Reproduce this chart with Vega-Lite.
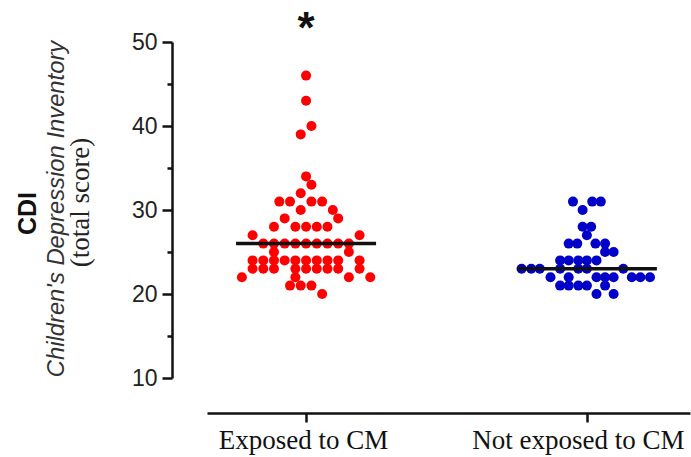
{
  "$schema": "https://vega.github.io/schema/vega-lite/v6.json",
  "width": 483,
  "height": 336,
  "autosize": {"type": "none"},
  "padding": {"left": 207, "top": 42, "right": 1, "bottom": 79},
  "background": "white",
  "config": {"view": {"stroke": null}, "axis": {"grid": false}},
  "resolve": {"axis": {"y": "independent"}},
  "layer": [
    {
      "data": {"values": [
        {"group": "Exposed to CM", "score": 46, "slot": 0},
        {"group": "Exposed to CM", "score": 43, "slot": 0},
        {"group": "Exposed to CM", "score": 40, "slot": 0.5},
        {"group": "Exposed to CM", "score": 39, "slot": -0.5},
        {"group": "Exposed to CM", "score": 34, "slot": 0},
        {"group": "Exposed to CM", "score": 33, "slot": 0.5},
        {"group": "Exposed to CM", "score": 32, "slot": -0.5},
        {"group": "Exposed to CM", "score": 31, "slot": -2.5},
        {"group": "Exposed to CM", "score": 31, "slot": -1.5},
        {"group": "Exposed to CM", "score": 31, "slot": 0.5},
        {"group": "Exposed to CM", "score": 31, "slot": 1.5},
        {"group": "Exposed to CM", "score": 30, "slot": -0.5},
        {"group": "Exposed to CM", "score": 30, "slot": 2.5},
        {"group": "Exposed to CM", "score": 29, "slot": -2},
        {"group": "Exposed to CM", "score": 29, "slot": 3},
        {"group": "Exposed to CM", "score": 28, "slot": -3},
        {"group": "Exposed to CM", "score": 28, "slot": -1},
        {"group": "Exposed to CM", "score": 28, "slot": 0},
        {"group": "Exposed to CM", "score": 28, "slot": 1},
        {"group": "Exposed to CM", "score": 28, "slot": 2},
        {"group": "Exposed to CM", "score": 27, "slot": -5},
        {"group": "Exposed to CM", "score": 27, "slot": 5},
        {"group": "Exposed to CM", "score": 26, "slot": -4},
        {"group": "Exposed to CM", "score": 26, "slot": -3},
        {"group": "Exposed to CM", "score": 26, "slot": -2},
        {"group": "Exposed to CM", "score": 26, "slot": -1},
        {"group": "Exposed to CM", "score": 26, "slot": 0},
        {"group": "Exposed to CM", "score": 26, "slot": 1},
        {"group": "Exposed to CM", "score": 26, "slot": 2},
        {"group": "Exposed to CM", "score": 26, "slot": 3},
        {"group": "Exposed to CM", "score": 26, "slot": 4},
        {"group": "Exposed to CM", "score": 25, "slot": -3},
        {"group": "Exposed to CM", "score": 25, "slot": 4},
        {"group": "Exposed to CM", "score": 24, "slot": -5},
        {"group": "Exposed to CM", "score": 24, "slot": -4},
        {"group": "Exposed to CM", "score": 24, "slot": -3},
        {"group": "Exposed to CM", "score": 24, "slot": -2},
        {"group": "Exposed to CM", "score": 24, "slot": -1},
        {"group": "Exposed to CM", "score": 24, "slot": 0},
        {"group": "Exposed to CM", "score": 24, "slot": 1},
        {"group": "Exposed to CM", "score": 24, "slot": 2},
        {"group": "Exposed to CM", "score": 24, "slot": 3},
        {"group": "Exposed to CM", "score": 24, "slot": 5},
        {"group": "Exposed to CM", "score": 23, "slot": -5},
        {"group": "Exposed to CM", "score": 23, "slot": -4},
        {"group": "Exposed to CM", "score": 23, "slot": -3},
        {"group": "Exposed to CM", "score": 23, "slot": -1},
        {"group": "Exposed to CM", "score": 23, "slot": 0},
        {"group": "Exposed to CM", "score": 23, "slot": 1},
        {"group": "Exposed to CM", "score": 23, "slot": 2},
        {"group": "Exposed to CM", "score": 23, "slot": 3},
        {"group": "Exposed to CM", "score": 23, "slot": 5},
        {"group": "Exposed to CM", "score": 22, "slot": -6},
        {"group": "Exposed to CM", "score": 22, "slot": -1},
        {"group": "Exposed to CM", "score": 22, "slot": 4},
        {"group": "Exposed to CM", "score": 22, "slot": 6},
        {"group": "Exposed to CM", "score": 21, "slot": -1.5},
        {"group": "Exposed to CM", "score": 21, "slot": -0.5},
        {"group": "Exposed to CM", "score": 21, "slot": 0.5},
        {"group": "Exposed to CM", "score": 20, "slot": 1.5},
        {"group": "Not exposed to CM", "score": 31, "slot": -1.3},
        {"group": "Not exposed to CM", "score": 31, "slot": 0.5},
        {"group": "Not exposed to CM", "score": 31, "slot": 1.3},
        {"group": "Not exposed to CM", "score": 30, "slot": -0.4},
        {"group": "Not exposed to CM", "score": 28, "slot": -0.4},
        {"group": "Not exposed to CM", "score": 28, "slot": 0.4},
        {"group": "Not exposed to CM", "score": 27, "slot": 0},
        {"group": "Not exposed to CM", "score": 26, "slot": -1.7},
        {"group": "Not exposed to CM", "score": 26, "slot": -0.9},
        {"group": "Not exposed to CM", "score": 26, "slot": 0.8},
        {"group": "Not exposed to CM", "score": 26, "slot": 1.7},
        {"group": "Not exposed to CM", "score": 25, "slot": 1.7},
        {"group": "Not exposed to CM", "score": 25, "slot": 2.5},
        {"group": "Not exposed to CM", "score": 24, "slot": -2.5},
        {"group": "Not exposed to CM", "score": 24, "slot": -1.7},
        {"group": "Not exposed to CM", "score": 24, "slot": -0.8},
        {"group": "Not exposed to CM", "score": 24, "slot": 0},
        {"group": "Not exposed to CM", "score": 24, "slot": 0.9},
        {"group": "Not exposed to CM", "score": 23, "slot": -6.1},
        {"group": "Not exposed to CM", "score": 23, "slot": -5.2},
        {"group": "Not exposed to CM", "score": 23, "slot": -4.4},
        {"group": "Not exposed to CM", "score": 23, "slot": -2.5},
        {"group": "Not exposed to CM", "score": 23, "slot": -0.8},
        {"group": "Not exposed to CM", "score": 23, "slot": 0},
        {"group": "Not exposed to CM", "score": 23, "slot": 3.4},
        {"group": "Not exposed to CM", "score": 22, "slot": -3.4},
        {"group": "Not exposed to CM", "score": 22, "slot": -1.7},
        {"group": "Not exposed to CM", "score": 22, "slot": 0.9},
        {"group": "Not exposed to CM", "score": 22, "slot": 1.7},
        {"group": "Not exposed to CM", "score": 22, "slot": 2.5},
        {"group": "Not exposed to CM", "score": 22, "slot": 4.2},
        {"group": "Not exposed to CM", "score": 22, "slot": 5.0},
        {"group": "Not exposed to CM", "score": 22, "slot": 5.9},
        {"group": "Not exposed to CM", "score": 21, "slot": -2.5},
        {"group": "Not exposed to CM", "score": 21, "slot": -1.7},
        {"group": "Not exposed to CM", "score": 21, "slot": -0.8},
        {"group": "Not exposed to CM", "score": 21, "slot": 0},
        {"group": "Not exposed to CM", "score": 21, "slot": 1.7},
        {"group": "Not exposed to CM", "score": 20, "slot": 0.9},
        {"group": "Not exposed to CM", "score": 20, "slot": 2.5}
      ]},
      "mark": {"type": "circle", "size": 100, "opacity": 1},
      "encoding": {
        "x": {
          "field": "group", "type": "nominal",
          "sort": ["Exposed to CM", "Not exposed to CM"],
          "scale": {"type": "point", "padding": 0.36, "align": 0.49},
          "axis": {
            "title": null, "orient": "bottom", "offset": 35,
            "domainColor": "#111", "domainWidth": 2.5,
            "tickColor": "#111", "tickWidth": 2.5, "tickSize": 9,
            "labelFont": "Liberation Serif", "labelFontSize": 27, "labelColor": "#111",
            "labelAngle": 0, "labelPadding": 5, "labelLimit": 0,
            "labelOffset": {"condition": {"test": "datum.value === 'Not exposed to CM'", "value": -9}, "value": -3}
          }
        },
        "xOffset": {"field": "slot", "type": "quantitative", "scale": {"domain": [-10, 10], "range": [-107, 107]}},
        "y": {
          "field": "score", "type": "quantitative",
          "scale": {"domain": [10, 50], "nice": false, "zero": false},
          "axis": {
            "orient": "left", "offset": 35, "values": [10, 20, 30, 40, 50],
            "domainColor": "#111", "domainWidth": 2.5,
            "tickColor": "#111", "tickWidth": 2.5, "tickSize": 10,
            "labelFont": "Liberation Sans", "labelFontSize": 23, "labelColor": "#222", "labelPadding": 5,
            "title": "(total score)", "titleFont": "Liberation Serif", "titleFontSize": 27,
            "titleFontWeight": "normal", "titleColor": "#222",
            "titleX": -84, "titleY": 160, "titleBaseline": "alphabetic", "titleAlign": "center", "titleAngle": 270
          }
        },
        "color": {
          "field": "group", "type": "nominal",
          "scale": {"domain": ["Exposed to CM", "Not exposed to CM"], "range": ["#ff0000", "#0000c8"]},
          "legend": null
        }
      }
    },
    {
      "data": {"values": [
        {"group": "Exposed to CM", "median": 26},
        {"group": "Not exposed to CM", "median": 23}
      ]},
      "mark": {"type": "tick", "size": 140, "thickness": 3.5, "color": "#111111", "opacity": 1},
      "encoding": {
        "x": {"field": "group", "type": "nominal", "sort": ["Exposed to CM", "Not exposed to CM"]},
        "y": {
          "field": "median", "type": "quantitative",
          "axis": {
            "orient": "left", "offset": 35, "values": [15, 25, 35, 45],
            "domain": false, "labels": false,
            "tickColor": "#111", "tickWidth": 2.5, "tickSize": 5,
            "title": "Children's Depression Inventory", "titleFont": "Liberation Sans",
            "titleFontStyle": "italic", "titleFontWeight": "normal", "titleFontSize": 23.8, "titleColor": "#333",
            "titleX": -109, "titleY": 166.5, "titleBaseline": "alphabetic", "titleAlign": "center", "titleAngle": 270
          }
        }
      }
    },
    {
      "data": {"values": [{"group": "Exposed to CM", "label": "*", "pos": 51.4}]},
      "mark": {"type": "text", "font": "Liberation Sans", "fontSize": 44, "fontWeight": "bold", "baseline": "middle", "align": "center", "color": "#111"},
      "encoding": {
        "x": {"field": "group", "type": "nominal", "sort": ["Exposed to CM", "Not exposed to CM"]},
        "y": {
          "field": "pos", "type": "quantitative",
          "axis": {
            "orient": "left", "offset": 35, "domain": false, "labels": false, "ticks": false,
            "title": "CDI", "titleFont": "Liberation Sans", "titleFontWeight": "bold", "titleFontSize": 25, "titleColor": "#111",
            "titleX": -137, "titleY": 171, "titleBaseline": "alphabetic", "titleAlign": "center", "titleAngle": 270
          }
        },
        "text": {"field": "label"}
      }
    }
  ]
}
